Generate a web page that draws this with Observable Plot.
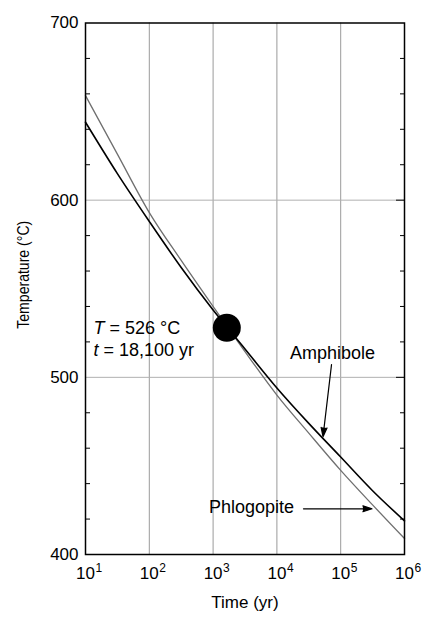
<!DOCTYPE html>
<html>
<head>
<meta charset="utf-8">
<script src="https://cdn.jsdelivr.net/npm/d3@7"></script>
<script src="https://cdn.jsdelivr.net/npm/@observablehq/plot@0.6"></script>
<style>
  html, body { margin: 0; padding: 0; background: #fff; }
  #chart { width: 424px; height: 618px; }
  svg { font-family: "Liberation Sans", Arial, Helvetica, sans-serif; }
</style>
</head>
<body>
<div id="chart"></div>
<script>
// ---- data ----
const decades = [10, 100, 1000, 10000, 100000, 1000000];
const exponents = ["1", "2", "3", "4", "5", "6"];
const yTicks = [400, 500, 600, 700];
const yMinor = [420, 440, 460, 480, 520, 540, 560, 580, 620, 640, 660, 680];
const yRightMajor = [500, 600];
const gridX = [100, 1000, 10000, 100000];
const gridY = [500, 600];

const timeYr = [10, 31.6, 100, 316, 1000, 3160, 10000, 31600, 100000, 316000, 1000000];
const amphiboleT = [644, 615, 588, 562, 538, 516, 494, 474, 455, 436, 419];
const phlogopiteT = [659, 626, 593, 566, 540, 514.5, 490, 468.5, 447.5, 428, 409];

const pointTime = [1640];
const pointTemp = [528];

const noteText = ["T = 526 °C", "t = 18,100 yr"];
const noteTime = [13.3, 13.3];
const noteTemp = [524.7, 512.3];

const labelText = ["Amphibole", "Phlogopite"];
const labelTime = [74300, 4000];
const labelTemp = [510.6, 423.6];

const arrowTime1 = [71800, 26100];
const arrowTemp1 = [507.2, 425.8];
const arrowTime2 = [52800, 309500];
const arrowTemp2 = [466.5, 425.8];

const xLabel = "Time (yr)";
const yLabel = "Temperature (°C)";

// ---- chart ----
const idx = (arr) => arr.map((_, i) => i);

const svg = Plot.plot({
  width: 424,
  height: 618,
  marginLeft: 85,
  marginRight: 20,
  marginTop: 22.5,
  marginBottom: 64,
  style: { fontFamily: '"Liberation Sans", Arial, sans-serif', background: "#fff", color: "#000" },
  x: { type: "log", domain: [10, 1000000] },
  y: { domain: [400, 700] },
  marks: [
    Plot.ruleX(gridX, { x: d => d, stroke: "#9a9a9a", strokeWidth: 1 }),
    Plot.ruleY(gridY, { y: d => d, stroke: "#b0b0b0", strokeWidth: 1 }),
    // y axis labels
    Plot.axisY(yTicks, { anchor: "left", tickSize: 0, tickPadding: 7, fontSize: 17, label: null }),
    // minor inward ticks
    Plot.axisY(yMinor, { anchor: "left", tickSize: 5, dx: 5, tickFormat: () => "", label: null, stroke: "#000" }),
    Plot.axisY(yMinor, { anchor: "right", tickSize: 5, dx: -5, tickFormat: () => "", label: null, stroke: "#000" }),
    Plot.axisY(yRightMajor, { anchor: "right", tickSize: 9, dx: -9, tickFormat: () => "", label: null, stroke: "#000" }),
    // x axis labels "10" + exponent
    Plot.axisX(decades, { anchor: "bottom", tickSize: 0, tickPadding: 12, fontSize: 17, tickFormat: () => "10", label: null }),
    Plot.text(idx(decades), {
      x: i => decades[i], frameAnchor: "bottom", text: i => exponents[i],
      dx: 10, dy: 9, textAnchor: "start", lineAnchor: "top", fontSize: 12
    }),
    // axis titles
    Plot.text([xLabel], { frameAnchor: "bottom", text: d => d, dy: 53, lineAnchor: "bottom", fontSize: 17 }),
    Plot.text([yLabel], { frameAnchor: "left", text: d => d, rotate: -90, dx: -57, dy: 40, textAnchor: "start", lineAnchor: "bottom", fontSize: 17 }),
    // curves
    Plot.line(phlogopiteT, { x: (d, i) => timeYr[i], y: d => d, stroke: "#6f6f6f", strokeWidth: 1.3, curve: "monotone-x" }),
    Plot.line(amphiboleT, { x: (d, i) => timeYr[i], y: d => d, stroke: "#000", strokeWidth: 1.6, curve: "monotone-x" }),
    // point
    Plot.dot(idx(pointTime), { x: i => pointTime[i], y: i => pointTemp[i], r: 14, fill: "#000", stroke: null }),
    // notes
    Plot.text(idx(noteText), {
      x: i => noteTime[i], y: i => noteTemp[i], text: i => noteText[i],
      textAnchor: "start", lineAnchor: "bottom", fontSize: 18
    }),
    Plot.text(idx(labelText), {
      x: i => labelTime[i], y: i => labelTemp[i], text: i => labelText[i],
      textAnchor: "middle", lineAnchor: "bottom", fontSize: 18, fill: "#000"
    }),
    Plot.arrow(idx(arrowTime1), {
      x1: i => arrowTime1[i], y1: i => arrowTemp1[i], x2: i => arrowTime2[i], y2: i => arrowTemp2[i],
      stroke: "#000", fill: "#000", strokeWidth: 1.2, headLength: 12, headAngle: 36
    }),
    Plot.frame({ stroke: "#000", strokeWidth: 1.5 })
  ]
});

// post-process: italic variable letters, condensed y title
const NS = "http://www.w3.org/2000/svg";
svg.querySelectorAll("text").forEach(el => {
  const s = el.textContent;
  const m = /^([Tt])( = .*)$/.exec(s);
  if (m) {
    el.textContent = "";
    const it = document.createElementNS(NS, "tspan");
    it.setAttribute("font-style", "italic");
    it.textContent = m[1];
    el.appendChild(it);
    el.appendChild(document.createTextNode(m[2]));
  }
  if (s === yLabel) {
    el.setAttribute("textLength", "108");
    el.setAttribute("lengthAdjust", "spacingAndGlyphs");
  }
});

document.getElementById("chart").appendChild(svg);
</script>
</body>
</html>
